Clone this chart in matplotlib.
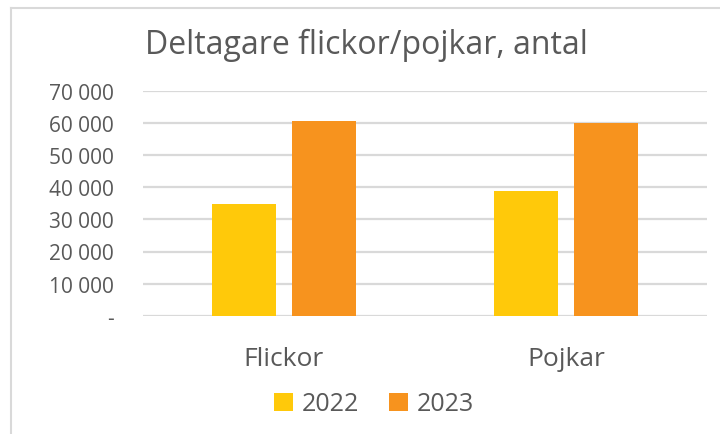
import matplotlib
matplotlib.use("Agg")
import matplotlib.pyplot as plt
from matplotlib.ticker import FuncFormatter
from matplotlib.lines import Line2D
import numpy as np

categories = ["Flickor", "Pojkar"]
series_names = ["2022", "2023"]
values_2022 = [34800, 38700]
values_2023 = [60800, 59900]
yticks = [0, 10000, 20000, 30000, 40000, 50000, 60000, 70000]

colors = ["#FFC90A", "#F7931E"]
text_color = "#595959"
grid_color = "#D9D9D9"
font = ["Open Sans", "DejaVu Sans"]

fig = plt.figure(figsize=(7.2, 4.35), dpi=100)
ax = fig.add_axes([143/720, 1 - 316.7/435, (707 - 143)/720, (316.7 - 92)/435])

x = np.arange(len(categories))
w = 0.225
off = 0.1425
b1 = ax.bar(x - off, values_2022, w, color=colors[0], label=series_names[0], zorder=3)
b2 = ax.bar(x + off, values_2023, w, color=colors[1], label=series_names[1], zorder=3)

ax.set_xlim(-0.5, 1.5)
ax.set_ylim(0, 70000)
ax.set_yticks(yticks)

def fmt(v, pos):
    if v == 0:
        return "-"
    return f"{int(v):,}".replace(",", " ")

ax.yaxis.set_major_formatter(FuncFormatter(fmt))
ax.grid(axis="y", color=grid_color, linewidth=1.6, zorder=0)
ax.set_axisbelow(True)
for s in ax.spines.values():
    s.set_visible(False)
ax.tick_params(axis="both", length=0)
ax.tick_params(axis="y", pad=21, labelsize=15, labelcolor=text_color)
ax.set_xticks(x)
ax.set_xticklabels(categories)
ax.tick_params(axis="x", pad=22, labelsize=19, labelcolor=text_color)
for lab in ax.get_yticklabels() + ax.get_xticklabels():
    lab.set_family(font)

fig.text(366/720, 1 - 45/435, "Deltagare flickor/pojkar, antal", ha="center", va="center",
         fontsize=23, color=text_color, family=font)

leg = fig.legend(handles=[b1, b2], loc="center", bbox_to_anchor=(374/720, 1 - 405/435),
                 ncol=2, frameon=False, handlelength=0.75, handleheight=0.75,
                 handletextpad=0.35, columnspacing=1.2,
                 prop={"family": font, "size": 18})
for t in leg.get_texts():
    t.set_color(text_color)

# outer frame lines (left and top)
fig.add_artist(Line2D([11/720, 11/720], [0, 1 - 9/435], transform=fig.transFigure,
                      color="#D9D9D9", linewidth=1.5))
fig.add_artist(Line2D([11/720, 1], [1 - 9/435, 1 - 9/435], transform=fig.transFigure,
                      color="#D9D9D9", linewidth=1.5))

fig.savefig("out.png", dpi=100)
